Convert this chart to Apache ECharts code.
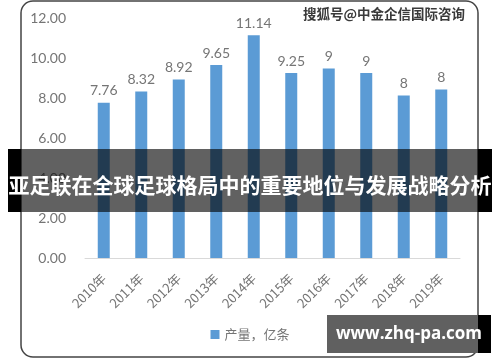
<!DOCTYPE html>
<html><head><meta charset="utf-8">
<script src="https://cdn.jsdelivr.net/npm/echarts@6/dist/echarts.min.js"></script>
<style>html,body{margin:0;padding:0;background:#fff}#c{width:500px;height:362px}</style>
</head><body><div id="c"></div>
<script>
const categories = ['2010年','2011年','2012年','2013年','2014年','2015年','2016年','2017年','2018年','2019年'];
const values = [7.76, 8.32, 8.92, 9.65, 11.14, 9.25, 9.47, 9.25, 8.13, 8.42];
const valueLabels = ['7.76','8.32','8.92','9.65','11.14','9.25','9','9','8','8'];
const yTicks = [0, 2, 4, 6, 8, 10, 12];
const seriesName = '产量，亿条';
const bannerTitle = '亚足联在全球足球格局中的重要地位与发展战略分析';
const watermark = '搜狐号@中金企信国际咨询';
const siteText = 'www.zhq-pa.com';

const chart = echarts.init(document.getElementById('c'));
const txt = '#757575';
chart.setOption({
  animation: false,
  grid: {left: 85, right: 40, top: 18, bottom: 104},
  legend: {
    bottom: 16, left: 'center', itemWidth: 9, itemHeight: 9, icon: 'rect',
    textStyle: {color: txt, fontSize: 13, fontFamily: 'Noto Sans CJK SC'},
    data: [seriesName]
  },
  xAxis: {
    type: 'category', data: categories,
    axisLine: {lineStyle: {color: '#d9d9d9'}},
    axisTick: {show: false},
    axisLabel: {rotate: 45, margin: 18, color: txt, fontSize: 13, fontFamily: 'Noto Sans CJK SC'}
  },
  yAxis: {
    type: 'value', min: yTicks[0], max: yTicks[yTicks.length-1], interval: 2,
    axisLine: {show: false}, axisTick: {show: false}, splitLine: {show: false},
    axisLabel: {margin: 19, color: txt, fontSize: 14, fontFamily: 'Lato', formatter: v => v.toFixed(2)}
  },
  series: [{
    name: seriesName, type: 'bar', data: values, barWidth: 12,
    itemStyle: {color: '#5b9bd5'},
    label: {show: true, position: 'top', distance: 5, color: txt, fontSize: 14, fontFamily: 'Lato',
      formatter: p => valueLabels[p.dataIndex]}
  }],
  graphic: [
    {type: 'rect', z: 50, shape: {x: 21, y: 1, width: 457, height: 356, r: 12}, style: {fill: 'none', stroke: '#444', lineWidth: 1.5}},
    {type: 'text', z: 50, left: 303, top: 7, style: {text: watermark, fill: '#3a3a3a', font: 'bold 13.5px "Noto Sans CJK SC"'}},
    {type: 'rect', z: 100, shape: {x: 8, y: 149, width: 484, height: 63}, style: {fill: 'rgba(0,0,0,0.62)'}},
    {type: 'rect', z: 100, shape: {x: 8, y: 149, width: 13, height: 63}, style: {fill: '#000'}},
    {type: 'rect', z: 100, shape: {x: 478, y: 149, width: 14, height: 63}, style: {fill: '#000'}},
    {type: 'text', z: 101, x: 250, y: 185, style: {text: bannerTitle, fill: '#fff', font: 'bold 21px "Noto Sans CJK SC"', textAlign: 'center', textVerticalAlign: 'middle'}},
    {type: 'rect', z: 100, shape: {x: 327, y: 315, width: 151, height: 38}, style: {fill: '#606060'}},
    {type: 'rect', z: 100, shape: {x: 478, y: 315, width: 13, height: 38}, style: {fill: '#000'}},
    {type: 'text', z: 101, x: 409, y: 334, style: {text: siteText, fill: '#fff', font: 'bold 17px "Open Sans"', textAlign: 'center', textVerticalAlign: 'middle'}}
  ]
});
</script></body></html>
